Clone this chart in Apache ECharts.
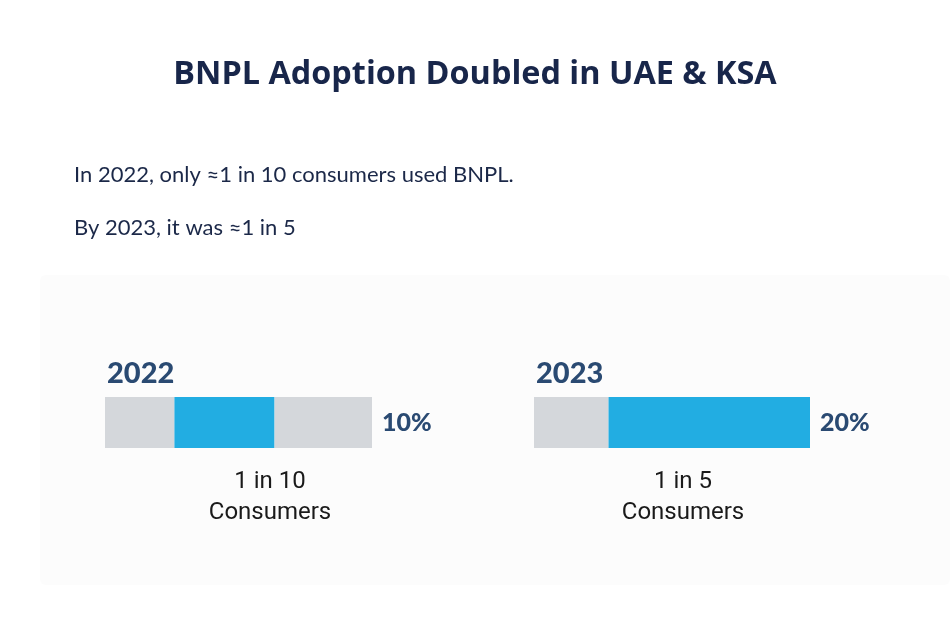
<!DOCTYPE html>
<html>
<head>
<meta charset="utf-8">
<script src="https://cdn.jsdelivr.net/npm/echarts@6/dist/echarts.min.js"></script>
<style>
html,body{margin:0;padding:0;background:#ffffff;}
#chart{width:950px;height:636px;}
</style>
</head>
<body>
<div id="chart"></div>
<script>
// ---- data ----
const years = ['2022', '2023'];
const adoptionPct = [10, 20];
const captions = ['1 in 10\nConsumers', '1 in 5\nConsumers'];
// bar segments as share of the full bar (stylised infographic)
const leadGrey = [26, 27];
const blueShare = [37.5, 73];
const trailGrey = [36.5, 0];

const titleText = 'BNPL Adoption Doubled in UAE & KSA';
const subtitleLines = ['In 2022, only \u22481 in 10 consumers used BNPL.', 'By 2023, it was \u22481 in 5'];

const GREY = '#d4d7db';
const BLUE = '#22ade2';
const NAVY = '#2a4a72';

const chart = echarts.init(document.getElementById('chart'));

const gridPos = [
  {left: 105, width: 267},
  {left: 534, width: 276}
];

const grids = [], xAxes = [], yAxes = [], series = [];
years.forEach((y, i) => {
  grids.push({left: gridPos[i].left, width: gridPos[i].width, top: 397, height: 51});
  xAxes.push({type: 'value', gridIndex: i, min: 0, max: 100, show: false});
  yAxes.push({type: 'category', gridIndex: i, data: [y], show: false});
  const last = trailGrey[i] > 0 ? 2 : 1;
  const segs = [
    {v: leadGrey[i], c: GREY},
    {v: blueShare[i], c: BLUE},
    {v: trailGrey[i], c: GREY}
  ];
  segs.forEach((s, k) => {
    if (s.v <= 0) return;
    series.push({
      type: 'bar', xAxisIndex: i, yAxisIndex: i, stack: 's' + i,
      data: [s.v], barWidth: 51, silent: true,
      itemStyle: {color: s.c},
      label: k === last ? {
        show: true, position: 'right', distance: 10,
        formatter: () => adoptionPct[i] + '%',
        fontFamily: 'Lato', fontWeight: 900, fontSize: 25, color: NAVY
      } : {show: false}
    });
  });
});

const titles = [
  {text: titleText, left: 'center', top: 54,
   textStyle: {fontFamily: 'Open Sans', fontWeight: 'bold', fontSize: 32.4, color: '#18264a'}},
  {text: subtitleLines[0], left: 69, top: 159,
   textStyle: {fontFamily: 'Lato', fontWeight: 'normal', fontSize: 22, color: '#1b2848'}},
  {text: subtitleLines[1], left: 69, top: 212,
   textStyle: {fontFamily: 'Lato', fontWeight: 'normal', fontSize: 22, color: '#1b2848'}}
];
const yearX = [102, 531];
const capX = [265, 678];
years.forEach((y, i) => {
  titles.push({text: y, left: yearX[i], top: 354,
    textStyle: {fontFamily: 'Lato', fontWeight: 900, fontSize: 29, color: NAVY}});
  titles.push({text: captions[i], left: capX[i], top: 461, textAlign: 'center',
    textStyle: {fontFamily: 'Roboto', fontWeight: 'normal', fontSize: 24, lineHeight: 31, color: '#1a1a1a'}});
});

chart.setOption({
  backgroundColor: '#ffffff',
  animation: false,
  graphic: [{type: 'rect', shape: {x: 40, y: 275, width: 910, height: 310, r: 6},
    style: {fill: '#fcfcfc'}, z: -10}],
  title: titles,
  grid: grids,
  xAxis: xAxes,
  yAxis: yAxes,
  series: series
});
</script>
</body>
</html>
